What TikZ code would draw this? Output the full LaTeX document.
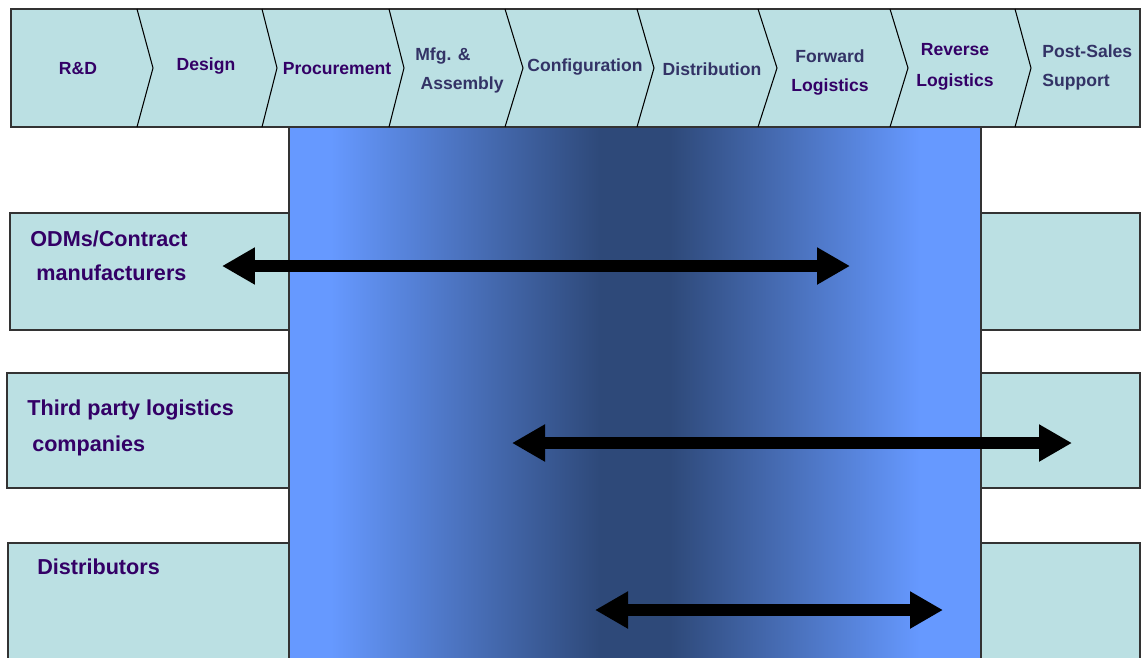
\documentclass[tikz,border=0pt]{standalone}
\usepackage{fontspec}
\setmainfont{Liberation Sans}
\usetikzlibrary{arrows.meta}

\definecolor{bandlight}{RGB}{102,153,255}
\definecolor{banddark}{RGB}{46,73,121}
\pgfdeclarehorizontalshading{bandshade}{100bp}{color(0bp)=(bandlight); color(28bp)=(bandlight); color(47.5bp)=(banddark); color(52.5bp)=(banddark); color(70.6bp)=(bandlight); color(100bp)=(bandlight)}

\begin{document}
\begin{tikzpicture}[x=0.02cm,y=-0.02cm]
					\definecolor{boxfill}{RGB}{187,224,227}
					\definecolor{lnpurple}{RGB}{51,0,102}
					\definecolor{lnslate}{RGB}{51,51,102}
					\definecolor{bdgray}{RGB}{51,51,51}
					\tikzset{
						rowbox/.style={
							draw=bdgray,
							fill=boxfill,
							line width=0.6pt
						},
						sepline/.style={
							draw=black,
							line width=0.6pt
						},
						stage/.style={
							font=\bfseries\fontsize{10}{16.5}\selectfont,
							inner sep=0pt,
							align=center,
							text=lnslate
						},
						player/.style={
							font=\bfseries\fontsize{12.3}{19.5}\selectfont,
							inner sep=0pt,
							anchor=west,
							align=left,
							text=lnpurple
						},
						reach/.style={
							line width=7pt,
							{Triangle[length=0.66cm,width=0.7cm]}-{Triangle[length=0.66cm,width=0.7cm]}
						}
					}
					
					\path[use as bounding box] (0,0) rectangle (1142,657);
					\clip (0,0) rectangle (1142,657);
					
					% ======= Rows =======
					\draw[rowbox] (10,213) rectangle (1140,330);
					\draw[rowbox] (7,373) rectangle (1140,488);
					\draw[rowbox] (8,543) rectangle (1140,690);
					
					% ======= Blue band =======
					\shade[shading=bandshade] (289,127) rectangle (981,690);
					\draw[draw=bdgray, line width=0.8pt] (289,127) rectangle (981,690);
					
					% ======= Value chain bar =======
					\draw[rowbox] (11,9) rectangle (1140,127);
					\foreach \a/\b in {137/153, 262/277, 389/404, 505/523, 637/654, 758/777, 890/908, 1015/1031}
						\draw[sepline] (\a,9) -- (\b,68) -- (\a,127);
					
					\node[stage, text=lnpurple] (rd) at (78,69) {R\&D};
					\node[stage, text=lnpurple] (design) at (206,66) {Design};
					\node[stage, text=lnpurple] (procure) at (337,69) {Procurement};
					\node[stage, anchor=west, align=left] (mfg) at (415,70) {Mfg. \&\\\hspace{3pt}Assembly};
					\node[stage] (config) at (585,67) {Configuration};
					\node[stage] (distrib) at (712,69) {Distribution};
					\node[stage] (fwd) at (830,72) {Forward\\\textcolor{lnpurple}{Logistics}};
					\node[stage, text=lnpurple, font=\bfseries\fontsize{10}{17.5}\selectfont] (rev) at (955,67) {Reverse\\Logistics};
					\node[stage, anchor=west, align=left] (post) at (1042,67) {Post-Sales\\Support};
					
					% ======= Players =======
					\node[player] (odm) at (30,256) {ODMs/Contract\\\hspace{3.4pt}manufacturers};
					\node[player, font=\bfseries\fontsize{12.3}{20.5}\selectfont] (tpl) at (27,428) {Third party logistics\\\hspace{2.8pt}companies};
					\node[player] (dist) at (37,567) {Distributors};
					
					% ======= Reach =======
					\coordinate (odmL) at (222,266);
					\coordinate (odmR) at (850,266);
					\coordinate (tplL) at (512,443);
					\coordinate (tplR) at (1072,443);
					\coordinate (distL) at (595,610);
					\coordinate (distR) at (943,610);
					
					\draw[reach] (odmL) -- (odmR);
					\draw[reach] (tplL) -- (tplR);
					\draw[reach] (distL) -- (distR);
				\end{tikzpicture}
\end{document}
